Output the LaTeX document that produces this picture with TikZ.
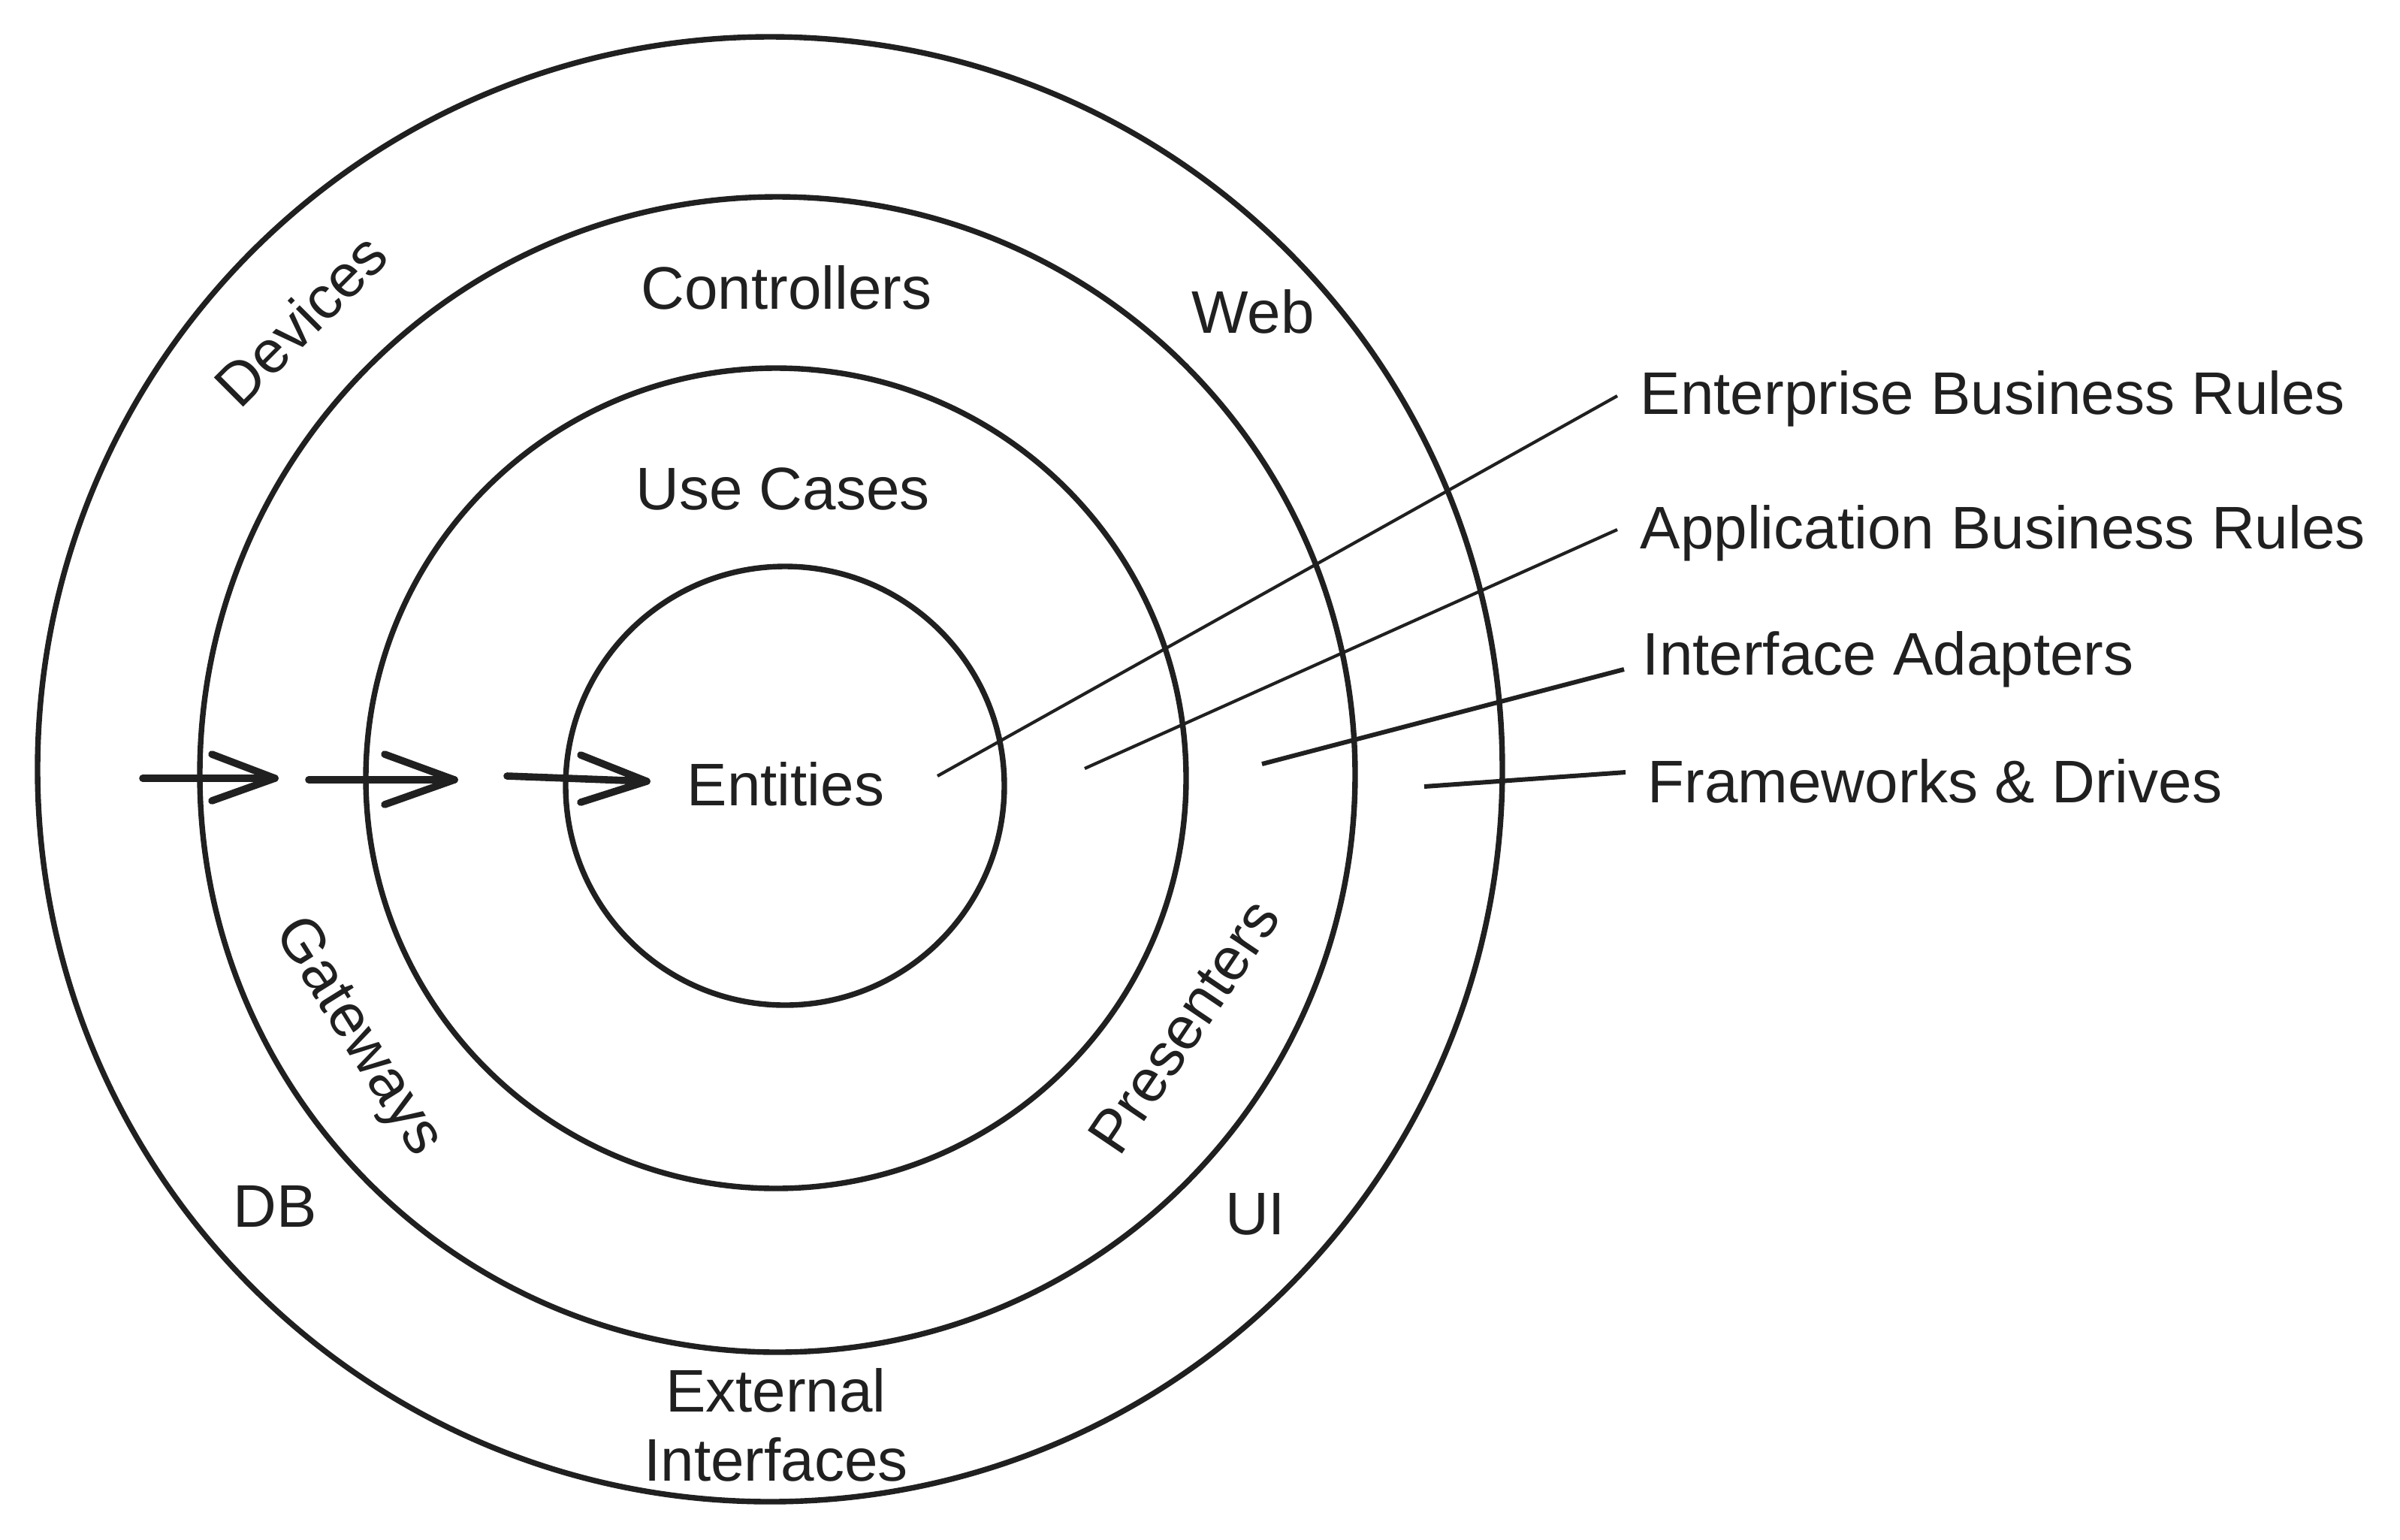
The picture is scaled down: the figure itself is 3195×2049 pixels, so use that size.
\documentclass[tikz,border=0pt]{standalone}
\usepackage{fontspec}
\setmainfont{Liberation Sans}
\definecolor{ink}{HTML}{202020}
\begin{document}
\begin{tikzpicture}[x=0.25pt,y=-0.25pt,
  ring/.style={draw=ink,line width=1.85pt},
  lbl/.style={text=ink,font=\fontsize{20pt}{23pt}\selectfont,inner sep=0pt},
  baselbl/.style={lbl,anchor=base},
  sidelbl/.style={lbl,anchor=base west},
  rotlbl/.style={lbl,text depth=0pt,anchor=center},
  leader/.style={draw=ink,line width=1.05pt},
  leaderb/.style={draw=ink,line width=1.5pt},
  flow/.style={draw=ink,line width=2.4pt,line cap=round,line join=round}]
\useasboundingbox[fill=white] (0,0) rectangle (3195,2049);

% rings
\draw[ring] (1025,1024) circle[radius=975];
\draw[ring] (1035,1031) circle[radius=769];
\draw[ring] (1033,1036) circle[radius=546];
\draw[ring] (1045,1046) circle[radius=292];

% ring labels
\node[baselbl] (controllers) at (1047,411) {Controllers};
\node[baselbl] (web) at (1668,443) {Web};
\node[baselbl] (usecases) at (1042,678) {Use Cases};
\node[baselbl] (entities) at (1046,1072) {Entities};
\node[baselbl] (db) at (366,1633) {DB};
\node[baselbl] (ui) at (1671,1643) {UI};
\node[baselbl] (external) at (1033,1879) {External};
\node[baselbl] (interfaces) at (1033,1971) {Interfaces};
\node[rotlbl,rotate=45] (devices) at (400,425) {Devices};
\node[rotlbl,rotate=-58] (gateways) at (482,1377) {Gateways};
\node[rotlbl,rotate=56] (presenters) at (1576,1366) {Presenters};

% side labels
\node[sidelbl] (ebr) at (2183,551) {Enterprise Business Rules};
\node[sidelbl] (abr) at (2183,730) {Application Business Rules};
\node[sidelbl] (ia) at (2186,898) {Interface Adapters};
\node[sidelbl] (fd) at (2193,1068) {Frameworks \& Drives};

% leader lines
\coordinate (l1a) at (1248,1033); \coordinate (l1b) at (2153,527);
\coordinate (l2a) at (1444,1023); \coordinate (l2b) at (2153,705);
\coordinate (l3a) at (1680,1017); \coordinate (l3b) at (2162,891);
\coordinate (l4a) at (1896,1047); \coordinate (l4b) at (2164,1028);
\draw[leader] (l1a) -- (l1b);
\draw[leader] (l2a) -- (l2b);
\draw[leaderb] (l3a) -- (l3b);
\draw[leaderb] (l4a) -- (l4b);

% dependency arrows
\coordinate (a1s) at (190,1036); \coordinate (a1t) at (366,1036);
\coordinate (a1u) at (282,1004); \coordinate (a1d) at (282,1066);
\coordinate (a2s) at (411,1038); \coordinate (a2t) at (605,1038);
\coordinate (a2u) at (512,1004); \coordinate (a2d) at (512,1071);
\coordinate (a3s) at (675,1033); \coordinate (a3t) at (861,1040);
\coordinate (a3u) at (773,1005); \coordinate (a3d) at (773,1068);
\draw[flow] (a1s) -- (a1t);
\draw[flow] (a1u) -- (a1t) -- (a1d);
\draw[flow] (a2s) -- (a2t);
\draw[flow] (a2u) -- (a2t) -- (a2d);
\draw[flow] (a3s) -- (a3t);
\draw[flow] (a3u) -- (a3t) -- (a3d);
\end{tikzpicture}
\end{document}
